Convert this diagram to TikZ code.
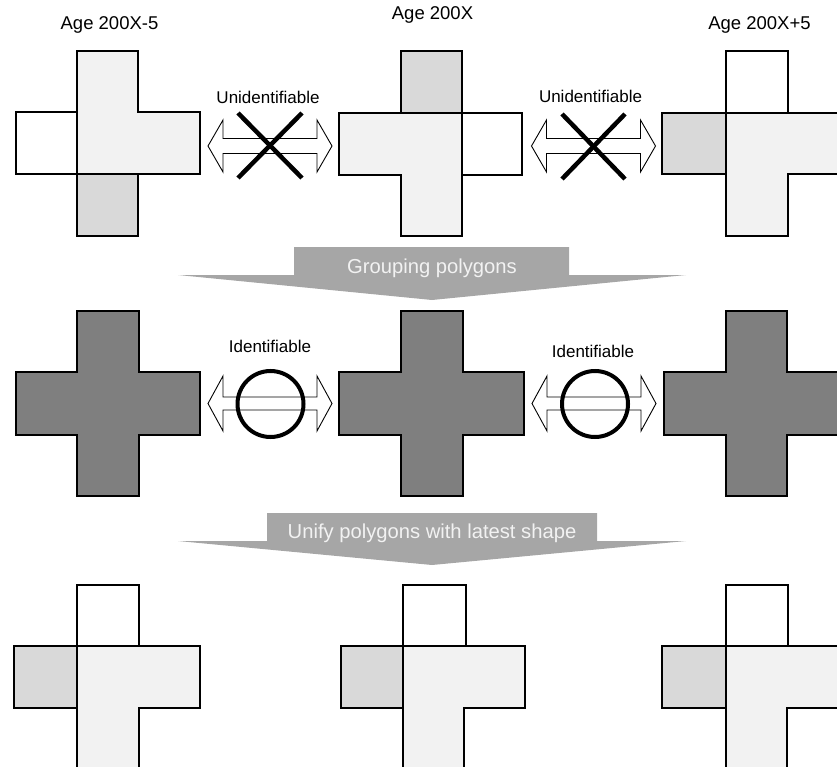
\documentclass[tikz,border=0pt]{standalone}
\usepackage{fontspec}
\setmainfont{Liberation Sans}
\definecolor{lightg}{HTML}{F2F2F2}
\definecolor{midg}{HTML}{D9D9D9}
\definecolor{darkg}{HTML}{7F7F7F}
\definecolor{bannerg}{HTML}{A6A6A6}
\newcommand{\DblArrow}[4]{% cx, cy, head half height, shaft half height
  \begin{scope}[shift={(#1,#2)}]
    \draw[arrowshape] (-62,0) -- (-47,-#3) -- (-47,-#4) -- (47,-#4) -- (47,-#3) -- (62,0)
      -- (47,#3) -- (47,#4) -- (-47,#4) -- (-47,#3) -- cycle;
  \end{scope}}
\begin{document}
\begin{tikzpicture}[x=1pt,y=-1pt,
  outl/.style={draw=black, line width=1.2pt, line join=miter},
  arrowshape/.style={draw=black, fill=white, line width=0.9pt, line join=miter},
  cross/.style={draw=black, line width=4.5pt},
  ring/.style={draw=black, line width=4pt},
  lbl/.style={font=\fontsize{17}{20}\selectfont, anchor=base, inner sep=0pt},
  agelbl/.style={font=\fontsize{18.5}{22}\selectfont, anchor=base, inner sep=0pt},
  bannertext/.style={font=\fontsize{20.2}{24}\selectfont, text=lightg, anchor=base, inner sep=0pt},
  banner/.style={fill=bannerg, draw=none}]
\useasboundingbox (0,0) rectangle (837,767);
\clip (0,0) rectangle (837,767);

% ---------- Top row ----------
% Age 200X-5
\filldraw[outl, fill=lightg] (77,51) -- (138,51) -- (138,112) -- (200,112) -- (200,174) -- (77,174) -- cycle;
\filldraw[outl, fill=white] (16,112) -- (77,112) -- (77,174) -- (16,174) -- cycle;
\filldraw[outl, fill=midg] (77,174) -- (138,174) -- (138,236) -- (77,236) -- cycle;
% Age 200X
\filldraw[outl, fill=lightg] (339,113) -- (462,113) -- (462,236) -- (401,236) -- (401,175) -- (339,175) -- cycle;
\filldraw[outl, fill=midg] (401,51) -- (462,51) -- (462,113) -- (401,113) -- cycle;
\filldraw[outl, fill=white] (462,113) -- (522,113) -- (522,175) -- (462,175) -- cycle;
% Age 200X+5
\filldraw[outl, fill=lightg] (726,113) -- (850,113) -- (850,174) -- (788,174) -- (788,236) -- (726,236) -- cycle;
\filldraw[outl, fill=white] (726,51) -- (788,51) -- (788,113) -- (726,113) -- cycle;
\filldraw[outl, fill=midg] (662,113) -- (726,113) -- (726,174) -- (662,174) -- cycle;

\node[agelbl] (t1) at (109.5,30) {Age 200X-5};
\node[agelbl] (t2) at (432.5,19.5) {Age 200X};
\node[agelbl] (t3) at (759.5,30) {Age 200X+5};

\DblArrow{270}{146}{26}{7.5}
\draw[cross] (238,113) -- (302,178);
\draw[cross] (302,113) -- (238,178);
\node[lbl] (u1) at (268,103.5) {Unidentifiable};

\DblArrow{593.5}{146}{26}{7.5}
\draw[cross] (562,114) -- (625,179);
\draw[cross] (625,114) -- (562,179);
\node[lbl] (u2) at (590.5,103) {Unidentifiable};

% ---------- Banner 1 ----------
\fill[banner] (294,247) -- (569,247) -- (569,275) -- (686,275) -- (432,300) -- (178,275) -- (294,275) -- cycle;
\node[bannertext] (b1) at (432,273) {Grouping polygons};

% ---------- Middle row ----------
\filldraw[outl, fill=darkg] (77,311) -- (139,311) -- (139,372) -- (200,372) -- (200,435) -- (139,435) -- (139,496) -- (77,496) -- (77,435) -- (16,435) -- (16,372) -- (77,372) -- cycle;
\filldraw[outl, fill=darkg] (401,311) -- (463,311) -- (463,372) -- (524,372) -- (524,435) -- (463,435) -- (463,496) -- (401,496) -- (401,435) -- (339,435) -- (339,372) -- (401,372) -- cycle;
\filldraw[outl, fill=darkg] (726,311) -- (787,311) -- (787,372) -- (850,372) -- (850,435) -- (787,435) -- (787,496) -- (726,496) -- (726,435) -- (664,435) -- (664,372) -- (726,372) -- cycle;

\DblArrow{270}{403.5}{27.5}{6.5}
\draw[ring] (270.5,404) circle (33pt);
\node[lbl] (i1) at (270,352) {Identifiable};

\DblArrow{594}{403.5}{27.5}{6.5}
\draw[ring] (595,404) circle (33pt);
\node[lbl] (i2) at (593,357) {Identifiable};

% ---------- Banner 2 ----------
\fill[banner] (267,513) -- (597,513) -- (597,541) -- (686,541) -- (432,565) -- (178,541) -- (267,541) -- cycle;
\node[bannertext] (b2) at (432,538) {Unify polygons with latest shape};

% ---------- Bottom row ----------
\filldraw[outl, fill=lightg] (77,646) -- (200,646) -- (200,708) -- (139,708) -- (139,780) -- (77,780) -- cycle;
\filldraw[outl, fill=white] (77,585) -- (139,585) -- (139,646) -- (77,646) -- cycle;
\filldraw[outl, fill=midg] (14,646) -- (77,646) -- (77,708) -- (14,708) -- cycle;

\filldraw[outl, fill=lightg] (403,646) -- (525,646) -- (525,708) -- (464,708) -- (464,780) -- (403,780) -- cycle;
\filldraw[outl, fill=white] (403,585) -- (466,585) -- (466,646) -- (403,646) -- cycle;
\filldraw[outl, fill=midg] (341,646) -- (403,646) -- (403,708) -- (341,708) -- cycle;

\filldraw[outl, fill=lightg] (726,646) -- (850,646) -- (850,708) -- (787,708) -- (787,780) -- (726,780) -- cycle;
\filldraw[outl, fill=white] (726,585) -- (788,585) -- (788,646) -- (726,646) -- cycle;
\filldraw[outl, fill=midg] (662,646) -- (726,646) -- (726,708) -- (662,708) -- cycle;
\end{tikzpicture}
\end{document}
